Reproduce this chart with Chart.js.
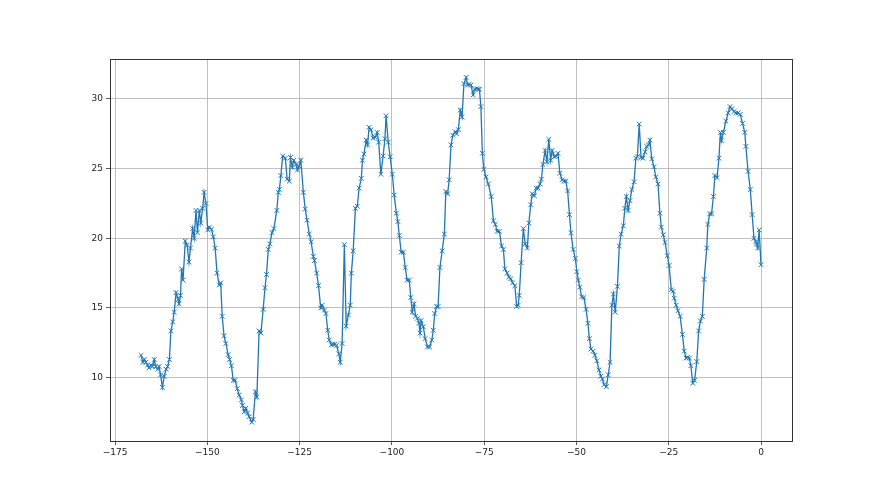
<!DOCTYPE html>
<html>
<head>
<meta charset="utf-8">
<script src="https://cdn.jsdelivr.net/npm/chart.js@4"></script>
<style>
  html, body { margin: 0; padding: 0; background: #fff; }
  #wrap { width: 880px; height: 495px; }
</style>
</head>
<body>
<div id="wrap"><canvas id="chart" width="880" height="495"></canvas></div>
<script>
// hours before now
const hours = [
  -168.0, -167.5, -167.1, -166.7, -166.2, -165.8, -165.3, -164.9, -164.4, -164.0,
  -163.5, -163.1, -162.7, -162.2, -161.7, -161.2, -160.8, -160.3, -159.9, -159.4,
  -159.0, -158.5, -157.9, -157.7, -157.3, -157.0, -156.6, -156.0, -155.5, -155.0,
  -154.6, -154.0, -153.6, -153.1, -152.7, -152.2, -151.8, -151.3, -150.9, -150.4,
  -149.9, -149.5, -148.9, -148.4, -147.9, -147.4, -146.8, -146.4, -146.0, -145.5,
  -145.0, -144.4, -144.0, -143.5, -143.0, -142.5, -141.9, -141.4, -140.8, -140.5,
  -140.0, -139.6, -139.1, -138.7, -138.0, -137.6, -137.0, -136.6, -136.0, -135.5,
  -134.9, -134.4, -134.0, -133.5, -133.1, -132.5, -132.0, -131.2, -130.8, -130.5,
  -130.1, -129.6, -128.9, -128.4, -127.8, -127.5, -127.0, -126.6, -126.0, -125.6,
  -125.2, -124.7, -124.0, -123.5, -123.0, -122.4, -121.9, -121.3, -121.0, -120.4,
  -119.9, -119.3, -118.9, -118.3, -117.9, -117.4, -117.0, -116.4, -115.9, -115.4,
  -115.0, -114.4, -114.0, -113.5, -112.9, -112.4, -111.8, -111.3, -111.0, -110.5,
  -109.9, -109.4, -108.9, -108.3, -108.0, -107.6, -107.0, -106.6, -106.2, -105.7,
  -105.1, -104.5, -104.0, -103.6, -103.0, -102.4, -101.9, -101.6, -101.0, -100.5,
  -99.9, -99.4, -98.8, -98.4, -98.0, -97.5, -96.9, -96.4, -95.9, -95.3,
  -94.9, -94.5, -94.0, -93.6, -93.1, -92.7, -92.4, -92.1, -91.5, -91.0,
  -90.4, -89.8, -89.2, -88.8, -88.4, -87.9, -87.5, -87.0, -86.4, -85.8,
  -85.4, -84.9, -84.5, -84.0, -83.5, -82.9, -82.5, -82.0, -81.5, -81.0,
  -80.5, -79.9, -79.5, -79.1, -78.6, -78.0, -77.6, -77.0, -76.6, -76.3,
  -75.9, -75.5, -75.1, -74.5, -73.9, -73.1, -72.5, -72.0, -71.5, -70.9,
  -70.3, -69.8, -69.4, -68.8, -68.3, -67.8, -67.3, -66.7, -66.2, -65.8,
  -65.5, -65.0, -64.4, -63.9, -63.3, -62.9, -62.4, -62.0, -61.4, -60.9,
  -60.4, -59.9, -59.5, -59.1, -58.5, -58.0, -57.5, -57.0, -56.6, -56.0,
  -55.6, -55.0, -54.5, -53.9, -53.4, -52.9, -52.4, -51.9, -51.5, -50.9,
  -50.3, -49.9, -49.5, -49.1, -48.6, -48.0, -47.4, -46.9, -46.5, -46.1,
  -45.5, -45.0, -44.5, -43.9, -43.4, -43.0, -42.5, -41.9, -41.4, -40.9,
  -40.4, -40.0, -39.5, -38.9, -38.4, -37.9, -37.3, -36.9, -36.5, -36.0,
  -35.5, -35.0, -34.4, -33.9, -33.5, -33.0, -32.5, -32.0, -31.4, -31.0,
  -30.5, -30.1, -29.6, -29.0, -28.5, -27.9, -27.4, -27.0, -26.5, -26.0,
  -25.4, -24.9, -24.3, -23.8, -23.5, -23.0, -22.5, -21.9, -21.3, -20.8,
  -20.3, -19.9, -19.4, -19.0, -18.5, -18.0, -17.4, -16.9, -16.4, -15.9,
  -15.4, -14.7, -14.4, -13.9, -13.4, -12.9, -12.5, -11.9, -11.4, -11.0,
  -10.7, -10.2, -9.5, -8.9, -8.4, -7.9, -7.3, -6.8, -6.2, -5.6,
  -5.0, -4.4, -4.1, -3.5, -2.9, -2.4, -1.9, -1.4, -1.2, -0.9,
  -0.5, 0.0
];

const temps = [
  11.6, 11.1, 11.3, 11.1, 10.9, 10.7, 10.9, 10.8, 11.3, 10.8,
  10.6, 10.8, 10.2, 9.3, 10.1, 10.6, 10.8, 11.3, 13.35, 14.0,
  14.7, 16.1, 15.6, 15.3, 15.9, 17.8, 17.0, 19.8, 19.5, 18.3,
  19.3, 20.7, 20.0, 22.0, 20.4, 22.0, 21.1, 22.15, 23.3, 22.5,
  20.6, 20.8, 20.65, 20.1, 19.3, 17.5, 16.65, 16.8, 14.4, 13.0,
  12.45, 11.65, 11.3, 10.85, 9.8, 9.8, 9.2, 8.75, 8.4, 8.0,
  7.55, 7.8, 7.45, 7.2, 6.8, 7.0, 8.97, 8.6, 13.35, 13.2,
  14.9, 16.45, 17.4, 19.2, 19.6, 20.4, 20.7, 22.0, 23.3, 23.5,
  24.5, 25.9, 25.75, 24.25, 24.1, 25.8, 25.1, 25.6, 25.3, 24.9,
  25.2, 25.6, 23.3, 22.1, 21.3, 20.3, 19.75, 18.7, 18.4, 17.5,
  16.6, 15.0, 15.2, 14.85, 14.6, 13.4, 12.7, 12.35, 12.4, 12.4,
  12.3, 11.7, 11.1, 12.45, 19.55, 13.7, 14.5, 15.2, 17.5, 19.1,
  22.15, 22.3, 23.6, 24.3, 25.6, 26.05, 27.05, 26.7, 27.97, 27.8,
  27.2, 27.25, 27.6, 26.9, 24.6, 25.9, 27.15, 28.8, 26.9, 25.85,
  24.6, 23.1, 21.8, 21.2, 20.2, 19.0, 19.0, 17.9, 17.0, 17.0,
  15.75, 14.7, 15.3, 14.4, 14.26, 13.9, 13.2, 14.1, 13.65, 12.8,
  12.2, 12.2, 12.7, 13.4, 14.6, 15.1, 15.1, 17.9, 19.1, 20.3,
  23.35, 23.2, 24.2, 26.7, 27.4, 27.65, 27.5, 27.8, 29.2, 28.7,
  31.1, 31.55, 31.0, 31.05, 31.0, 30.3, 30.7, 30.75, 30.7, 30.7,
  29.45, 26.1, 24.95, 24.4, 23.9, 23.0, 21.25, 21.0, 20.5, 20.5,
  19.45, 19.2, 17.8, 17.5, 17.2, 17.1, 16.8, 16.6, 15.1, 15.2,
  15.9, 18.25, 20.7, 19.6, 19.3, 21.1, 22.4, 23.2, 23.05, 23.6,
  23.6, 23.9, 24.25, 25.3, 26.3, 25.5, 27.1, 25.6, 26.3, 25.85,
  25.9, 26.1, 24.67, 24.2, 24.1, 24.1, 23.4, 21.7, 20.4, 19.2,
  18.55, 17.6, 17.0, 16.5, 15.8, 15.75, 14.9, 13.9, 12.8, 12.05,
  11.9, 11.6, 11.2, 10.55, 10.1, 9.9, 9.5, 9.35, 10.2, 11.1,
  15.2, 16.0, 14.7, 16.55, 19.45, 20.3, 20.9, 22.15, 23.0, 22.0,
  22.7, 23.5, 24.06, 25.75, 25.86, 28.2, 25.8, 25.75, 26.2, 26.6,
  26.7, 27.05, 25.7, 25.14, 24.4, 23.9, 21.8, 20.8, 20.25, 19.7,
  18.75, 18.05, 16.3, 16.2, 15.7, 15.2, 14.8, 14.4, 13.1, 11.9,
  11.4, 11.45, 11.4, 10.85, 9.6, 9.8, 11.15, 13.35, 14.06, 14.4,
  17.05, 19.3, 21.0, 21.75, 21.75, 23.0, 24.5, 24.35, 25.75, 27.6,
  27.0, 27.6, 28.4, 29.0, 29.45, 29.3, 29.1, 29.0, 29.0, 28.9,
  28.25, 27.6, 26.6, 24.8, 23.5, 21.7, 20.0, 19.75, 19.6, 19.3,
  20.6, 18.1
];

const xTicks = [-175, -150, -125, -100, -75, -50, -25, 0];
const yTicks = [10, 15, 20, 25, 30];

const points = hours.map((h, i) => ({ x: h, y: temps[i] }));

const minus = v => String(v).replace('-', '\u2212');

// matplotlib style closed frame
const framePlugin = {
  id: 'frame',
  afterDraw(chart) {
    const a = chart.chartArea;
    const c = chart.ctx;
    c.save();
    c.strokeStyle = '#333';
    c.lineWidth = 1;
    c.strokeRect(Math.round(a.left) + 0.5, Math.round(a.top) + 0.5,
      Math.round(a.right - a.left), Math.round(a.bottom - a.top));
    c.restore();
  }
};

const ctx = document.getElementById('chart').getContext('2d');
new Chart(ctx, {
  type: 'line',
  data: {
    datasets: [{
      data: points,
      borderColor: '#1f77b4',
      borderWidth: 1.3,
      pointStyle: 'crossRot',
      pointRadius: 3.3,
      pointBorderWidth: 1,
      pointBorderColor: '#1f77b4',
      pointBackgroundColor: '#1f77b4',
      tension: 0,
      fill: false
    }]
  },
  options: {
    responsive: false,
    animation: false,
    layout: { padding: { top: 59, right: 88, left: 0, bottom: 0 } },
    plugins: { legend: { display: false }, tooltip: { enabled: false } },
    scales: {
      x: {
        type: 'linear',
        min: -176.4,
        max: 8.4,
        afterBuildTicks: s => { s.ticks = xTicks.map(v => ({ value: v })); },
        afterFit: s => { s.height = 54; },
        grid: { color: '#b0b0b0', lineWidth: 0.8, tickColor: '#333', tickLength: 4 },
        border: { display: false },
        ticks: {
          color: '#222',
          font: { family: 'DejaVu Sans', size: 9 },
          padding: 2,
          maxRotation: 0,
          callback: v => minus(v)
        }
      },
      y: {
        min: 5.45,
        max: 32.87,
        afterBuildTicks: s => { s.ticks = yTicks.map(v => ({ value: v })); },
        afterFit: s => { s.width = 110; },
        grid: { color: '#b0b0b0', lineWidth: 0.8, tickColor: '#333', tickLength: 4 },
        border: { display: false },
        ticks: {
          color: '#222',
          font: { family: 'DejaVu Sans', size: 9 },
          padding: 3,
          callback: v => minus(v)
        }
      }
    }
  },
  plugins: [framePlugin]
});
</script>
</body>
</html>
